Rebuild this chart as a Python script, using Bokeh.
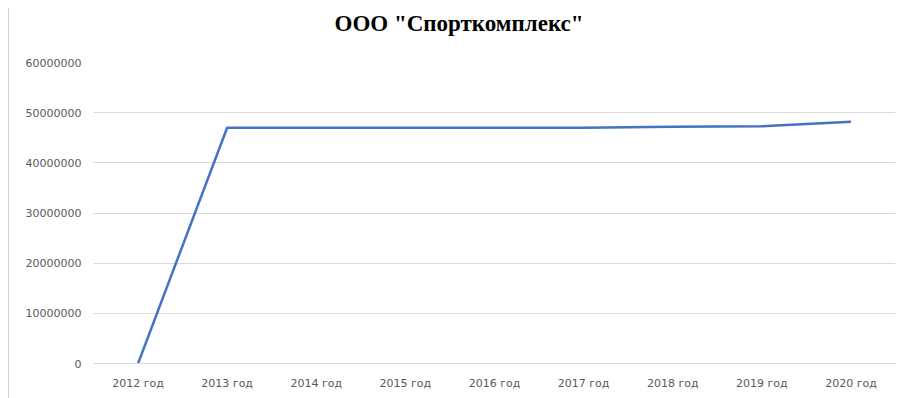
from bokeh.plotting import figure
from bokeh.models import Range1d, FixedTicker, BasicTickFormatter, Div, Title
from bokeh.layouts import row
from bokeh.embed import file_html
from bokeh.resources import INLINE

years = ["2012 год", "2013 год", "2014 год", "2015 год", "2016 год",
         "2017 год", "2018 год", "2019 год", "2020 год"]
values = [0, 47000000, 47000000, 47000000, 47000000,
          47000000, 47200000, 47300000, 48200000]
y_ticks = [0, 10000000, 20000000, 30000000, 40000000, 50000000, 60000000]
title_text = 'ООО "Спорткомплекс"'

p = figure(width=903, height=398, x_range=years, y_range=Range1d(0, 60000000),
           output_backend="svg", toolbar_location=None,
           min_border_left=84, min_border_right=17, min_border_bottom=35,
           min_border_top=62)
p.margin = 0
p.title = None
# the trailing empty line keeps the title near the top of the chart
t = Title(text=title_text + "\n", align="left", offset=241, vertical_align="top",
          standoff=0,
          text_font='"Liberation Serif", "DejaVu Serif", "Times New Roman", serif',
          text_font_size="23px",
          text_font_style="bold", text_color="#000000")
p.add_layout(t, "above")

p.line(x=years, y=values, line_color="#4472C4", line_width=2.5)

p.outline_line_color = None
p.background_fill_color = "white"
p.border_fill_color = "white"

p.xgrid.grid_line_color = None
p.ygrid.grid_line_color = "#d9d9d9"
p.ygrid.grid_line_width = 1

p.yaxis.ticker = FixedTicker(ticks=y_ticks)
p.yaxis.formatter = BasicTickFormatter(use_scientific=False)
p.yaxis.axis_line_color = None
p.yaxis.major_tick_line_color = None
p.yaxis.major_tick_out = 0
p.yaxis.minor_tick_line_color = None
p.yaxis.major_label_text_font = "DejaVu Sans"
p.yaxis.major_label_text_font_size = "11px"
p.yaxis.major_label_text_color = "#595959"
p.yaxis.major_label_standoff = 12

p.xaxis.axis_line_color = "#d9d9d9"
p.xaxis.major_tick_line_color = None
p.xaxis.major_tick_out = 0
p.xaxis.minor_tick_line_color = None
p.xaxis.major_label_text_font = "DejaVu Sans"
p.xaxis.major_label_text_font_size = "11px"
p.xaxis.major_label_text_color = "#595959"
p.xaxis.major_label_standoff = 13

spacer = Div(width=9, height=390, margin=(8, 0, 0, 0),
             styles={"border-right": "1px solid #d0d0d0", "box-sizing": "border-box"})
layout = row(spacer, p, spacing=0)
layout.margin = 0

open("out.html", "w").write(file_html(layout, INLINE))
